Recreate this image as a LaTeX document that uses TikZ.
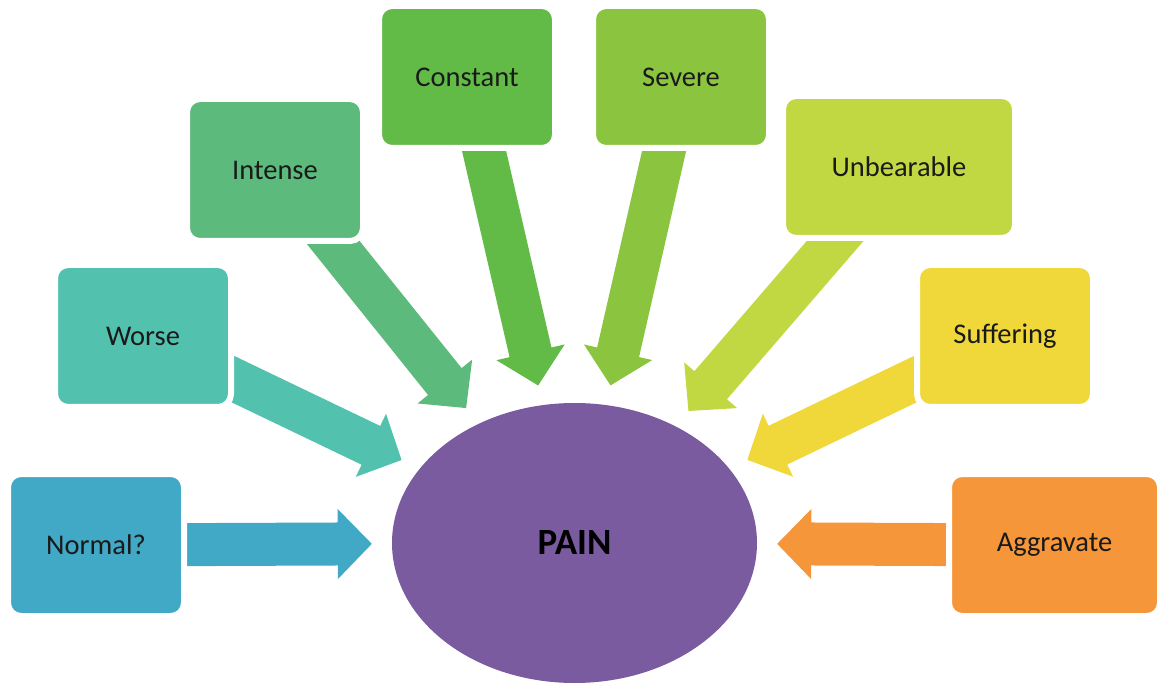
\documentclass[tikz,border=0pt]{standalone}
\usepackage{fontspec}
\setmainfont{Carlito}
\usetikzlibrary{calc,shapes.geometric,backgrounds}

\definecolor{cNor}{HTML}{41A8C6}
\definecolor{cWor}{HTML}{52C2AF}
\definecolor{cInt}{HTML}{5CBA7C}
\definecolor{cCon}{HTML}{62BA47}
\definecolor{cSev}{HTML}{8BC540}
\definecolor{cUnb}{HTML}{C2D843}
\definecolor{cSuf}{HTML}{F0D83A}
\definecolor{cAgg}{HTML}{F6963A}
\definecolor{cPain}{HTML}{7B5BA0}
\definecolor{ink}{HTML}{1A1A1A}

% block arrow from the centre of a box towards the PAIN ellipse,
% stopping 20pt short of its rim
\newcommand\painarrow[2]{%
  \path (#1.center) -- (pain) coordinate[pos=1] (#1-rim);
  \coordinate (#1-tip) at ($(#1-rim)!20pt!(#1.center)$);
  \coordinate (#1-neck) at ($(#1-tip)!34pt!(#1.center)$);
  \fill[#2]
    ($(#1.center)!21.5pt!90:(#1-tip)$) --
    ($(#1-neck)!21.5pt!90:(#1-tip)$) --
    ($(#1-neck)!35pt!90:(#1-tip)$) --
    (#1-tip) --
    ($(#1-neck)!35pt!-90:(#1-tip)$) --
    ($(#1-neck)!21.5pt!-90:(#1-tip)$) --
    ($(#1.center)!21.5pt!-90:(#1-tip)$) -- cycle;
}

\tikzset{
  card/.style={rectangle, rounded corners=13pt, draw=white, line width=6pt,
    minimum width=176pt, minimum height=142pt, inner sep=0pt,
    font=\fontsize{28.5}{34}\selectfont, text=ink},
  hub/.style={ellipse, fill=cPain, minimum width=365pt, minimum height=280pt,
    inner sep=0pt, font=\fontsize{37}{42}\selectfont\bfseries, text=black}
}

\begin{document}
\begin{tikzpicture}[x=1pt,y=-1pt]
\useasboundingbox (0,0) rectangle (1162,684);

\node[hub] (pain) at (574.5,543) {PAIN};

\node[card, fill=cNor] (nor) at (96,545) {Normal?};
\node[card, fill=cWor] (wor) at (143,336) {Worse};
\node[card, fill=cInt] (int) at (275,170) {Intense};
\node[card, fill=cCon] (con) at (467,77) {Constant};
\node[card, fill=cSev] (sev) at (681,77) {Severe};
\node[card, fill=cUnb, minimum width=232pt] (unb) at (899,167) {Unbearable};
\node[card, fill=cSuf] (suf) at (1005,336) {Suffering};
\node[card, fill=cAgg, minimum width=211pt] (agg) at (1054.5,545) {Aggravate};

\begin{scope}[on background layer]
  \painarrow{nor}{cNor}
  \painarrow{wor}{cWor}
  \painarrow{int}{cInt}
  \painarrow{con}{cCon}
  \painarrow{sev}{cSev}
  \painarrow{unb}{cUnb}
  \painarrow{suf}{cSuf}
  \painarrow{agg}{cAgg}
\end{scope}
\end{tikzpicture}
\end{document}
